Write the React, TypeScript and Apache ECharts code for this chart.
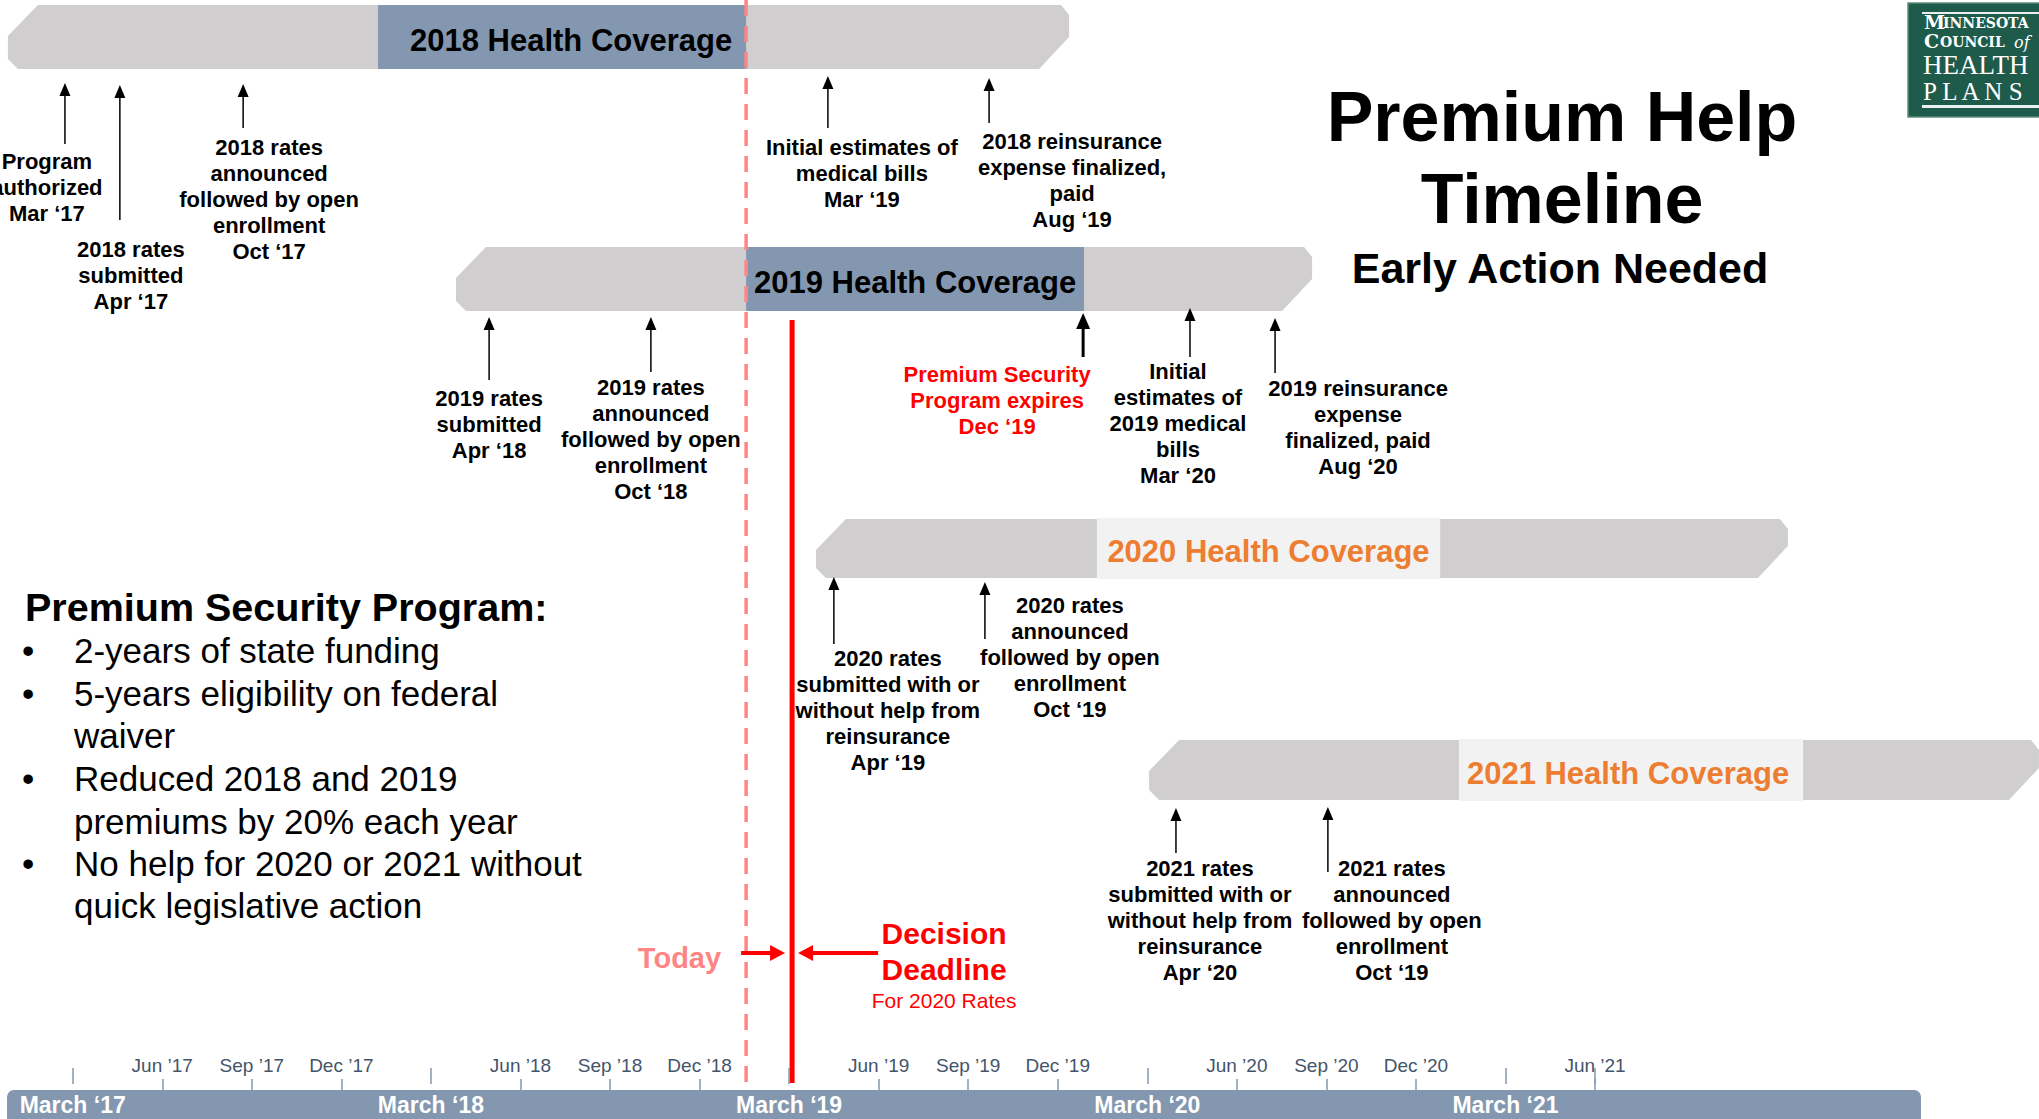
import React, { useEffect, useRef } from "react";
import * as echarts from "echarts";

const FONT = "'Liberation Sans', Arial, Helvetica, sans-serif";
const SERIF = "'DejaVu Serif', 'Liberation Serif', serif";

// ---------- DATA ----------
// x values are months on the timeline: Mar 2017 = 3, Jan 2018 = 13, Mar 2019 = 27, Mar 2021 = 51
const AXIS_MIN = 3;
const AXIS_MAX = 54;

const quarterMonths = [6, 9, 12, 18, 21, 24, 30, 33, 36, 42, 45, 48, 54];
const quarterLabels = [
  "Jun \u201917", "Sep \u201917", "Dec \u201917",
  "Jun \u201918", "Sep \u201918", "Dec \u201918",
  "Jun \u201919", "Sep \u201919", "Dec \u201919",
  "Jun \u201920", "Sep \u201920", "Dec \u201920",
  "Jun \u201921",
];
const marchMonths = [3, 15, 27, 39, 51];
const marchLabels = ["March \u201817", "March \u201818", "March \u201819", "March \u201820", "March \u201821"];

const timelineStart = 0.8;
const timelineEnd = 64.92;

const coverageNames = ["2018 Health Coverage", "2019 Health Coverage", "2020 Health Coverage", "2021 Health Coverage"];
const coverageSpanStart = [0.83, 15.84, 27.9, 39.06];
const coverageSpanEnd = [36.38, 44.52, 60.46, 68.87];
const coveragePeriodStart = [13.23, 25.56, 37.31, 49.44];
const coveragePeriodEnd = [25.56, 36.88, 48.81, 60.97];

const eventMonths = [2.74, 4.58, 8.71, 28.3, 33.7, 16.95, 22.37, 36.85, 40.43, 43.28, 28.5, 33.56, 39.96, 45.05];
const eventLabels = [
  "Program\nauthorized\nMar \u201817",
  "2018 rates\nsubmitted\nApr \u201817",
  "2018 rates\nannounced\nfollowed by open\nenrollment\nOct \u201817",
  "Initial estimates of\nmedical bills\nMar \u201819",
  "2018 reinsurance\nexpense finalized,\npaid\nAug \u201819",
  "2019 rates\nsubmitted\nApr \u201818",
  "2019 rates\nannounced\nfollowed by open\nenrollment\nOct \u201818",
  "Premium Security\nProgram expires\nDec \u201819",
  "Initial\nestimates of\n2019 medical\nbills\nMar \u201820",
  "2019 reinsurance\nexpense\nfinalized, paid\nAug \u201820",
  "2020 rates\nsubmitted with or\nwithout help from\nreinsurance\nApr \u201819",
  "2020 rates\nannounced\nfollowed by open\nenrollment\nOct \u201819",
  "2021 rates\nsubmitted with or\nwithout help from\nreinsurance\nApr \u201820",
  "2021 rates\nannounced\nfollowed by open\nenrollment\nOct \u201819",
];
const EXPIRY_EVENT = 7;

const todayMonth = 25.56;
const deadlineMonth = 27.1;

const programTitle = "Premium Security Program:";
const programPoints = [
  ["2-years of state funding"],
  ["5-years eligibility on federal", "waiver"],
  ["Reduced 2018 and 2019", "premiums by 20% each year"],
  ["No help for 2020 or 2021 without", "quick legislative action"],
];

// ---------- LAYOUT ----------
const ROW_TOP = [5, 247, 519, 740];
const ROW_BOTTOM = [69, 311, 578, 800];
const COVERAGE_STYLE = [
  { fill: "#8497B0", text: "#000000", pad: 0, dx: 9 },
  { fill: "#8497B0", text: "#000000", pad: 0, dx: 0 },
  { fill: "#F2F2F2", text: "#ED7D31", pad: 1, dx: 0 },
  { fill: "#F2F2F2", text: "#ED7D31", pad: 1, dx: -3 },
];
// [arrow tip y, arrow tail y, label dx, first label line y]
const EVENT_LAYOUT = [
  [83, 144, -18, 161],
  [85, 220, 11, 249],
  [84, 128, 26, 147],
  [76, 128, 34, 147],
  [78, 123, 83, 141],
  [317, 380, 0, 398],
  [317, 372, 0, 387],
  [313, 357, -86, 374],
  [308, 357, -12, 371],
  [318, 373, 83, 388],
  [577, 644, 54, 658],
  [582, 639, 85, 605],
  [808, 853, 24, 868],
  [807, 872, 64, 868],
];

const BAR_GRAY = "#D0CECE";
const SLATE = "#8497B0";
const TODAY_PINK = "#FF8585";
const RED = "#FF0000";

function txt(text: string, x: number, y: number, font: string, fill: string, align = "left", vAlign = "middle", extra: any = {}) {
  return {
    type: "text",
    style: {
      text, x, y, font, fill,
      align, verticalAlign: vAlign,
      textAlign: align, textVerticalAlign: vAlign,
      ...extra,
    },
  };
}

function buildGraphic() {
  const els: any[] = [];
  // Title
  els.push(txt("Premium Help", 1562, 117, `bold 70px ${FONT}`, "#000", "center"));
  els.push(txt("Timeline", 1562, 199, `bold 70px ${FONT}`, "#000", "center"));
  els.push(txt("Early Action Needed", 1560, 268, `bold 43px ${FONT}`, "#000", "center"));

  // Program block
  els.push(txt(programTitle, 25, 607, `bold 39.5px ${FONT}`, "#000"));
  const lineYs = [650, 693, 735, 778, 821, 863, 905];
  let li = 0;
  programPoints.forEach((pt) => {
    pt.forEach((line, j) => {
      const y = lineYs[li++];
      if (j === 0) els.push(txt("\u2022", 22, y, `35px ${FONT}`, "#000"));
      els.push(txt(line, 74, y, `35px ${FONT}`, "#000"));
    });
  });

  // Logo
  els.push({ type: "rect", shape: { x: 1908, y: 3, width: 140, height: 114 }, style: { fill: "#1E5B4A", stroke: "#5E8C7C", lineWidth: 1.5 } });
  els.push({ type: "rect", shape: { x: 1922, y: 12, width: 130, height: 2 }, style: { fill: "#E8EFEC" } });
  els.push({ type: "rect", shape: { x: 1922, y: 105, width: 130, height: 3 }, style: { fill: "#E8EFEC" } });
  els.push(txt("M", 1924, 31, `bold 19px ${SERIF}`, "#FFFFFF", "left", "bottom"));
  els.push(txt("INNESOTA", 1943, 30, `bold 14px ${SERIF}`, "#FFFFFF", "left", "bottom"));
  els.push(txt("C", 1924, 50, `bold 19px ${SERIF}`, "#FFFFFF", "left", "bottom"));
  els.push(txt("OUNCIL", 1940, 49, `bold 14px ${SERIF}`, "#FFFFFF", "left", "bottom"));
  els.push(txt("of", 2014, 50, `italic 16px ${SERIF}`, "#FFFFFF", "left", "bottom"));
  els.push(txt("HEALTH", 1923, 65, `27px 'Liberation Serif', serif`, "#FFFFFF", "left", "middle"));
  els.push(txt("P L A N S", 1923, 91, `25px 'Liberation Serif', serif`, "#FFFFFF", "left", "middle"));
  return els;
}

export default function App() {
  const ref = useRef<HTMLDivElement>(null);

  useEffect(() => {
    if (!ref.current) return;
    const chart = echarts.init(ref.current, undefined, { renderer: "svg" });

    const xBase = {
      type: "value",
      min: AXIS_MIN,
      max: AXIS_MAX,
      position: "bottom",
      axisLine: { show: false },
      splitLine: { show: false },
      z: 10,
    };

    const option: any = {
      animation: false,
      backgroundColor: "#FFFFFF",
      grid: { left: 72.7, right: 443.95, top: 0, bottom: 29, containLabel: false },
      xAxis: [
        {
          ...xBase,
          interval: 3,
          axisTick: { show: true, inside: true, length: 11, customValues: quarterMonths, lineStyle: { color: SLATE, width: 1.5 } },
          axisLabel: {
            show: true,
            inside: true,
            margin: 15,
            customValues: quarterMonths,
            showMinLabel: true,
            showMaxLabel: true,
            fontFamily: FONT,
            fontSize: 19,
            color: "#44546A",
            formatter: (v: number) => {
              const k = quarterMonths.indexOf(Math.round(v));
              return k >= 0 ? quarterLabels[k] : "";
            },
          },
        },
        {
          ...xBase,
          interval: 12,
          offset: -6,
          axisTick: { show: true, inside: true, length: 16, lineStyle: { color: SLATE, width: 1.5 } },
          axisLabel: { show: false },
        },
        {
          ...xBase,
          interval: 12,
          axisTick: { show: false },
          axisLabel: {
            show: true,
            margin: 3,
            showMinLabel: true,
            fontFamily: FONT,
            fontSize: 23,
            fontWeight: "bold",
            color: "#FFFFFF",
            formatter: (v: number) => {
              const k = marchMonths.indexOf(Math.round(v));
              return k >= 0 ? marchLabels[k] : "";
            },
          },
        },
      ],
      yAxis: { type: "value", min: 0, max: 1, show: false },
      graphic: { elements: buildGraphic() },
      series: [
        // bottom time band
        {
          type: "custom",
          z: 1,
          clip: false,
          silent: true,
          data: [[timelineStart, timelineEnd]],
          renderItem: (_p: any, api: any) => {
            const x0 = api.coord([api.value(0), 0])[0];
            const x1 = api.coord([api.value(1), 0])[0];
            return {
              type: "rect",
              shape: { x: x0, y: 1090, width: x1 - x0, height: 40, r: [7, 7, 0, 0] },
              style: { fill: SLATE },
            };
          },
        },
        // coverage banners
        {
          type: "custom",
          z: 3,
          clip: false,
          silent: true,
          data: coverageNames.map((_, i) => [coverageSpanStart[i], coverageSpanEnd[i], coveragePeriodStart[i], coveragePeriodEnd[i]]),
          renderItem: (params: any, api: any) => {
            const i = params.dataIndex;
            const x0 = api.coord([api.value(0), 0])[0];
            const x1 = api.coord([api.value(1), 0])[0];
            const p0 = api.coord([api.value(2), 0])[0];
            const p1 = api.coord([api.value(3), 0])[0];
            const top = ROW_TOP[i];
            const bot = ROW_BOTTOM[i];
            const st = COVERAGE_STYLE[i];
            const pts = [
              [x0 + 30, top], [x1 - 8, top], [x1, top + 10], [x1, bot - 32],
              [x1 - 30, bot], [x0 + 10, bot], [x0, bot - 10], [x0, top + 31],
            ];
            return {
              type: "group",
              children: [
                { type: "polygon", shape: { points: pts }, style: { fill: BAR_GRAY } },
                { type: "rect", shape: { x: p0, y: top - st.pad, width: p1 - p0, height: bot - top + 2 * st.pad }, style: { fill: st.fill } },
                {
                  type: "text",
                  style: {
                    text: coverageNames[i],
                    x: (p0 + p1) / 2 + st.dx, y: (top + bot) / 2 + 3,
                    font: `bold 31px ${FONT}`, fill: st.text,
                    align: "center", verticalAlign: "middle",
                    textAlign: "center", textVerticalAlign: "middle",
                  },
                },
              ],
            };
          },
        },
        // events: arrows and labels
        {
          type: "custom",
          z: 4,
          clip: false,
          silent: true,
          data: eventMonths.map((m, i) => [m, i]),
          renderItem: (params: any, api: any) => {
            const i = params.dataIndex;
            const x = api.coord([api.value(0), 0])[0];
            const [tipY, tailY, dx, firstY] = EVENT_LAYOUT[i];
            const strong = i === EXPIRY_EVENT;
            const lw = strong ? 3 : 1.5;
            const hw = strong ? 14 : 11;
            const hh = strong ? 16 : 13;
            return {
              type: "group",
              children: [
                { type: "line", shape: { x1: x, y1: tailY, x2: x, y2: tipY + hh - 2 }, style: { stroke: "#000", lineWidth: lw } },
                { type: "polygon", shape: { points: [[x, tipY], [x - hw / 2, tipY + hh], [x + hw / 2, tipY + hh]] }, style: { fill: "#000" } },
                {
                  type: "text",
                  style: {
                    text: eventLabels[i],
                    x: x + dx, y: firstY - 13,
                    font: `bold 22px ${FONT}`,
                    fill: strong ? RED : "#000",
                    lineHeight: 26.2,
                    align: "center", verticalAlign: "top",
                    textAlign: "center", textVerticalAlign: "top",
                  },
                },
              ],
            };
          },
        },
        // today line and decision deadline
        {
          type: "custom",
          z: 6,
          clip: false,
          silent: true,
          data: [[todayMonth, deadlineMonth]],
          renderItem: (_p: any, api: any) => {
            const tx = api.coord([api.value(0), 0])[0];
            const dx = api.coord([api.value(1), 0])[0];
            const ay = 953;
            const t = (text: string, x: number, y: number, font: string, fill: string, align: string) => ({
              type: "text",
              style: { text, x, y, font, fill, align, verticalAlign: "middle", textAlign: align, textVerticalAlign: "middle" },
            });
            return {
              type: "group",
              children: [
                { type: "line", shape: { x1: tx, y1: 0, x2: tx, y2: 1090 }, style: { stroke: TODAY_PINK, lineWidth: 3.5, lineDash: [16, 10] } },
                { type: "line", shape: { x1: dx, y1: 320, x2: dx, y2: 1083 }, style: { stroke: RED, lineWidth: 5 } },
                { type: "line", shape: { x1: tx - 5, y1: ay, x2: dx - 20, y2: ay }, style: { stroke: RED, lineWidth: 4 } },
                { type: "polygon", shape: { points: [[dx - 7, ay], [dx - 22, ay - 8], [dx - 22, ay + 8]] }, style: { fill: RED } },
                { type: "line", shape: { x1: dx + 86, y1: ay, x2: dx + 20, y2: ay }, style: { stroke: RED, lineWidth: 4 } },
                { type: "polygon", shape: { points: [[dx + 6, ay], [dx + 21, ay - 8], [dx + 21, ay + 8]] }, style: { fill: RED } },
                t("Today", tx - 25, 958, `bold 29px ${FONT}`, TODAY_PINK, "right"),
                t("Decision", dx + 152, 933, `bold 30px ${FONT}`, RED, "center"),
                t("Deadline", dx + 152, 969, `bold 30px ${FONT}`, RED, "center"),
                t("For 2020 Rates", dx + 152, 1000, `21px ${FONT}`, RED, "center"),
              ],
            };
          },
        },
      ],
    };

    chart.setOption(option);
    return () => chart.dispose();
  }, []);

  return (
    <div
      ref={ref}
      style={{ position: "absolute", left: 0, top: 0, width: 2039, height: 1119, background: "#fff" }}
    />
  );
}
